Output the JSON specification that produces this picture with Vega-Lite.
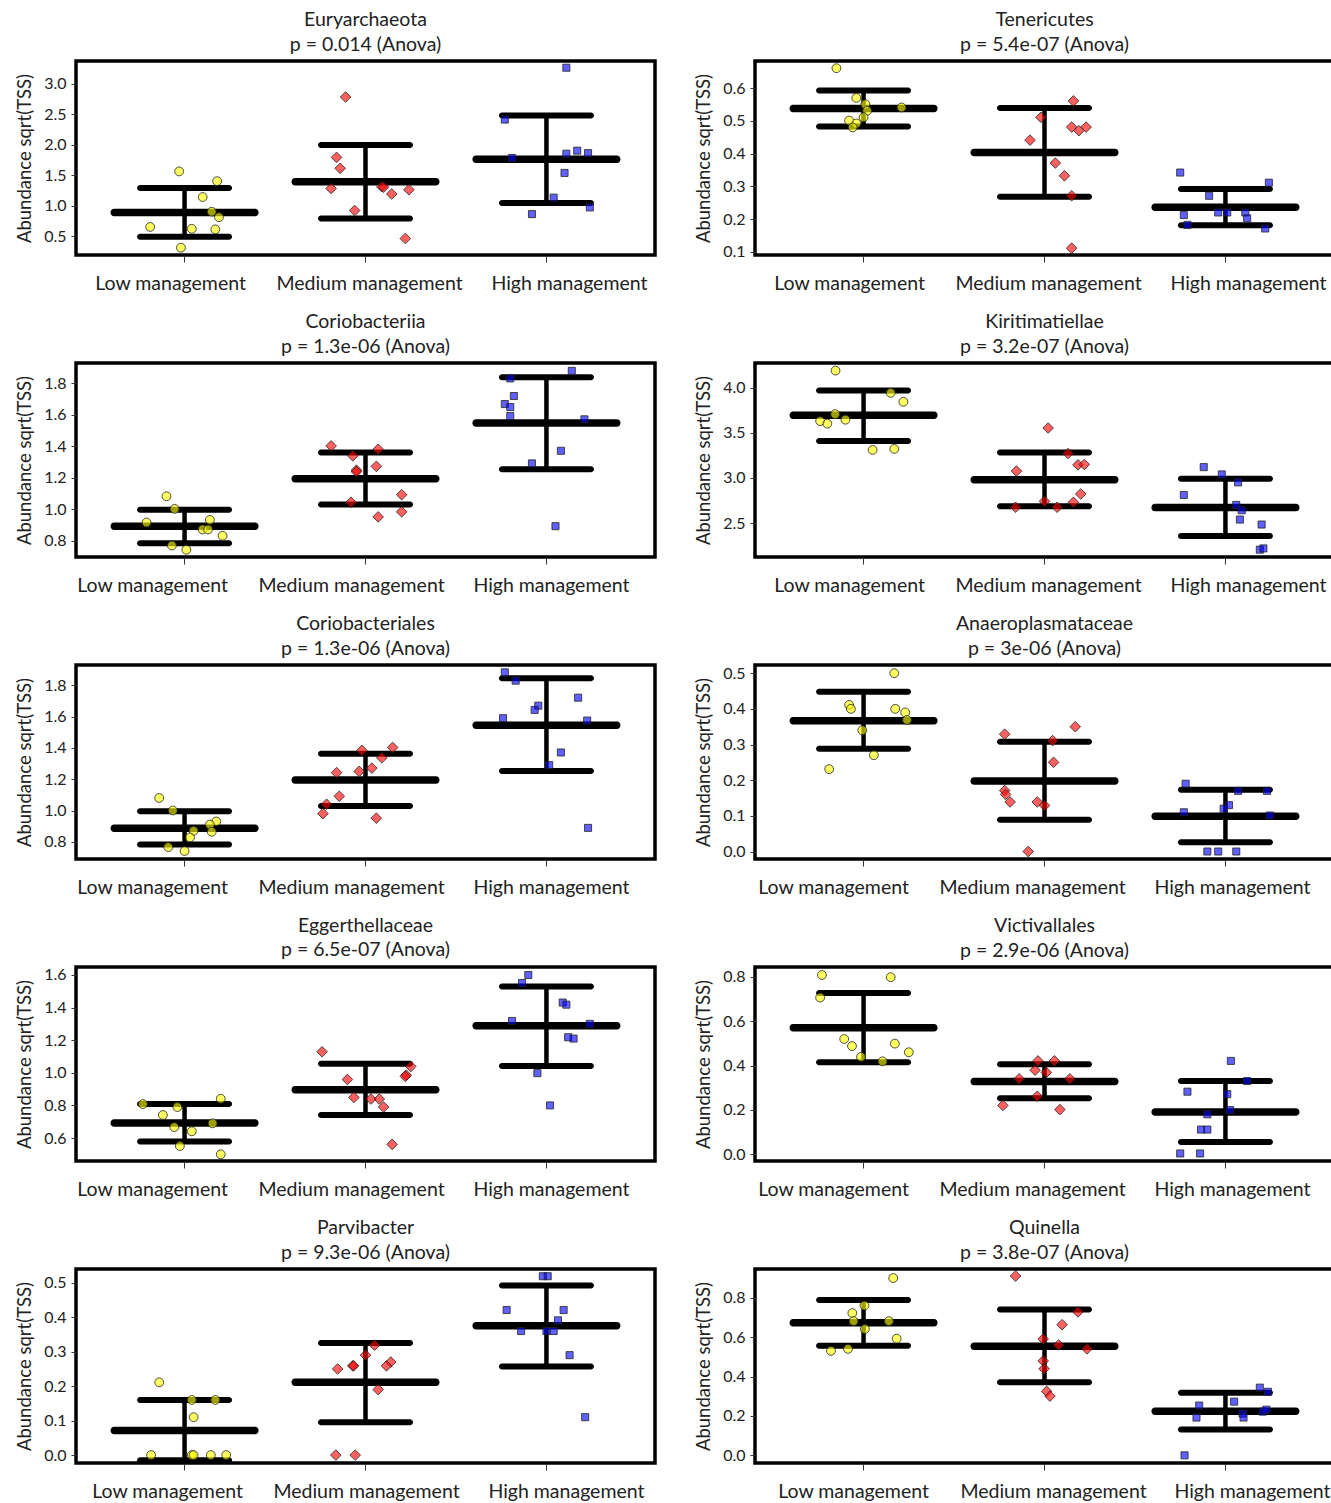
{
"$schema": "https://vega.github.io/schema/vega-lite/v6.json",
"padding": {"left": 13, "top": 8, "right": 0, "bottom": 0},
"background": "white",
"datasets": {"d": [
{"t":"Euryarchaeota","g":"L","k":"pt","v":1.56,"j":-0.03},{"t":"Euryarchaeota","g":"L","k":"pt","v":1.40,"j":0.18},{"t":"Euryarchaeota","g":"L","k":"pt","v":1.14,"j":0.10},{"t":"Euryarchaeota","g":"L","k":"pt","v":0.90,"j":0.15},{"t":"Euryarchaeota","g":"L","k":"pt","v":0.81,"j":0.19},{"t":"Euryarchaeota","g":"L","k":"pt","v":0.65,"j":-0.19},{"t":"Euryarchaeota","g":"L","k":"pt","v":0.62,"j":0.04},{"t":"Euryarchaeota","g":"L","k":"pt","v":0.61,"j":0.17},{"t":"Euryarchaeota","g":"L","k":"pt","v":0.31,"j":-0.02},
{"t":"Euryarchaeota","g":"L","k":"m","v":0.885},{"t":"Euryarchaeota","g":"L","k":"lo","v":0.49},{"t":"Euryarchaeota","g":"L","k":"hi","v":1.29},
{"t":"Euryarchaeota","g":"M","k":"pt","v":2.78,"j":-0.11},{"t":"Euryarchaeota","g":"M","k":"pt","v":1.79,"j":-0.16},{"t":"Euryarchaeota","g":"M","k":"pt","v":1.61,"j":-0.14},{"t":"Euryarchaeota","g":"M","k":"pt","v":1.28,"j":-0.19},{"t":"Euryarchaeota","g":"M","k":"pt","v":1.31,"j":0.09},{"t":"Euryarchaeota","g":"M","k":"pt","v":1.30,"j":0.10},{"t":"Euryarchaeota","g":"M","k":"pt","v":1.19,"j":0.145},{"t":"Euryarchaeota","g":"M","k":"pt","v":1.26,"j":0.24},{"t":"Euryarchaeota","g":"M","k":"pt","v":0.92,"j":-0.06},{"t":"Euryarchaeota","g":"M","k":"pt","v":0.46,"j":0.22},
{"t":"Euryarchaeota","g":"M","k":"m","v":1.39},{"t":"Euryarchaeota","g":"M","k":"lo","v":0.79},{"t":"Euryarchaeota","g":"M","k":"hi","v":1.995},
{"t":"Euryarchaeota","g":"H","k":"pt","v":3.26,"j":0.11},{"t":"Euryarchaeota","g":"H","k":"pt","v":2.41,"j":-0.23},{"t":"Euryarchaeota","g":"H","k":"pt","v":1.78,"j":-0.19},{"t":"Euryarchaeota","g":"H","k":"pt","v":1.85,"j":0.11},{"t":"Euryarchaeota","g":"H","k":"pt","v":1.90,"j":0.17},{"t":"Euryarchaeota","g":"H","k":"pt","v":1.86,"j":0.23},{"t":"Euryarchaeota","g":"H","k":"pt","v":1.535,"j":0.10},{"t":"Euryarchaeota","g":"H","k":"pt","v":1.13,"j":0.04},{"t":"Euryarchaeota","g":"H","k":"pt","v":0.86,"j":-0.08},{"t":"Euryarchaeota","g":"H","k":"pt","v":0.97,"j":0.24},
{"t":"Euryarchaeota","g":"H","k":"m","v":1.76},{"t":"Euryarchaeota","g":"H","k":"lo","v":1.044},{"t":"Euryarchaeota","g":"H","k":"hi","v":2.475},

{"t":"Tenericutes","g":"L","k":"pt","v":0.661,"j":-0.15},{"t":"Tenericutes","g":"L","k":"pt","v":0.570,"j":-0.04},{"t":"Tenericutes","g":"L","k":"pt","v":0.551,"j":0.01},{"t":"Tenericutes","g":"L","k":"pt","v":0.531,"j":0.02},{"t":"Tenericutes","g":"L","k":"pt","v":0.511,"j":0.0},{"t":"Tenericutes","g":"L","k":"pt","v":0.541,"j":0.21},{"t":"Tenericutes","g":"L","k":"pt","v":0.501,"j":-0.08},{"t":"Tenericutes","g":"L","k":"pt","v":0.492,"j":-0.04},{"t":"Tenericutes","g":"L","k":"pt","v":0.480,"j":-0.06},
{"t":"Tenericutes","g":"L","k":"m","v":0.538},{"t":"Tenericutes","g":"L","k":"lo","v":0.483},{"t":"Tenericutes","g":"L","k":"hi","v":0.593},
{"t":"Tenericutes","g":"M","k":"pt","v":0.561,"j":0.16},{"t":"Tenericutes","g":"M","k":"pt","v":0.511,"j":-0.02},{"t":"Tenericutes","g":"M","k":"pt","v":0.441,"j":-0.08},{"t":"Tenericutes","g":"M","k":"pt","v":0.481,"j":0.15},{"t":"Tenericutes","g":"M","k":"pt","v":0.470,"j":0.19},{"t":"Tenericutes","g":"M","k":"pt","v":0.481,"j":0.23},{"t":"Tenericutes","g":"M","k":"pt","v":0.371,"j":0.06},{"t":"Tenericutes","g":"M","k":"pt","v":0.332,"j":0.11},{"t":"Tenericutes","g":"M","k":"pt","v":0.271,"j":0.15},{"t":"Tenericutes","g":"M","k":"pt","v":0.111,"j":0.15},
{"t":"Tenericutes","g":"M","k":"m","v":0.403},{"t":"Tenericutes","g":"M","k":"lo","v":0.268},{"t":"Tenericutes","g":"M","k":"hi","v":0.539},
{"t":"Tenericutes","g":"H","k":"pt","v":0.342,"j":-0.25},{"t":"Tenericutes","g":"H","k":"pt","v":0.311,"j":0.24},{"t":"Tenericutes","g":"H","k":"pt","v":0.271,"j":-0.09},{"t":"Tenericutes","g":"H","k":"pt","v":0.212,"j":-0.23},{"t":"Tenericutes","g":"H","k":"pt","v":0.220,"j":-0.04},{"t":"Tenericutes","g":"H","k":"pt","v":0.220,"j":0.01},{"t":"Tenericutes","g":"H","k":"pt","v":0.220,"j":0.11},{"t":"Tenericutes","g":"H","k":"pt","v":0.202,"j":0.12},{"t":"Tenericutes","g":"H","k":"pt","v":0.182,"j":-0.21},{"t":"Tenericutes","g":"H","k":"pt","v":0.171,"j":0.22},
{"t":"Tenericutes","g":"H","k":"m","v":0.236},{"t":"Tenericutes","g":"H","k":"lo","v":0.181},{"t":"Tenericutes","g":"H","k":"hi","v":0.292},

{"t":"Coriobacteriia","g":"L","k":"pt","v":1.083,"j":-0.10},{"t":"Coriobacteriia","g":"L","k":"pt","v":1.003,"j":-0.055},{"t":"Coriobacteriia","g":"L","k":"pt","v":0.916,"j":-0.21},{"t":"Coriobacteriia","g":"L","k":"pt","v":0.933,"j":0.14},{"t":"Coriobacteriia","g":"L","k":"pt","v":0.872,"j":0.10},{"t":"Coriobacteriia","g":"L","k":"pt","v":0.872,"j":0.13},{"t":"Coriobacteriia","g":"L","k":"pt","v":0.832,"j":0.21},{"t":"Coriobacteriia","g":"L","k":"pt","v":0.770,"j":-0.07},{"t":"Coriobacteriia","g":"L","k":"pt","v":0.743,"j":0.01},
{"t":"Coriobacteriia","g":"L","k":"m","v":0.893},{"t":"Coriobacteriia","g":"L","k":"lo","v":0.785},{"t":"Coriobacteriia","g":"L","k":"hi","v":0.998},
{"t":"Coriobacteriia","g":"M","k":"pt","v":1.403,"j":-0.19},{"t":"Coriobacteriia","g":"M","k":"pt","v":1.340,"j":-0.07},{"t":"Coriobacteriia","g":"M","k":"pt","v":1.382,"j":0.07},{"t":"Coriobacteriia","g":"M","k":"pt","v":1.273,"j":0.06},{"t":"Coriobacteriia","g":"M","k":"pt","v":1.249,"j":-0.05},{"t":"Coriobacteriia","g":"M","k":"pt","v":1.239,"j":-0.05},{"t":"Coriobacteriia","g":"M","k":"pt","v":1.093,"j":0.20},{"t":"Coriobacteriia","g":"M","k":"pt","v":1.045,"j":-0.08},{"t":"Coriobacteriia","g":"M","k":"pt","v":0.984,"j":0.20},{"t":"Coriobacteriia","g":"M","k":"pt","v":0.952,"j":0.07},
{"t":"Coriobacteriia","g":"M","k":"m","v":1.195},{"t":"Coriobacteriia","g":"M","k":"lo","v":1.030},{"t":"Coriobacteriia","g":"M","k":"hi","v":1.361},
{"t":"Coriobacteriia","g":"H","k":"pt","v":1.880,"j":0.14},{"t":"Coriobacteriia","g":"H","k":"pt","v":1.832,"j":-0.20},{"t":"Coriobacteriia","g":"H","k":"pt","v":1.720,"j":-0.18},{"t":"Coriobacteriia","g":"H","k":"pt","v":1.669,"j":-0.23},{"t":"Coriobacteriia","g":"H","k":"pt","v":1.650,"j":-0.20},{"t":"Coriobacteriia","g":"H","k":"pt","v":1.593,"j":-0.20},{"t":"Coriobacteriia","g":"H","k":"pt","v":1.572,"j":0.21},{"t":"Coriobacteriia","g":"H","k":"pt","v":1.372,"j":0.08},{"t":"Coriobacteriia","g":"H","k":"pt","v":1.292,"j":-0.08},{"t":"Coriobacteriia","g":"H","k":"pt","v":0.893,"j":0.05},
{"t":"Coriobacteriia","g":"H","k":"m","v":1.549},{"t":"Coriobacteriia","g":"H","k":"lo","v":1.254},{"t":"Coriobacteriia","g":"H","k":"hi","v":1.840},

{"t":"Kiritimatiellae","g":"L","k":"pt","v":4.187,"j":-0.155},{"t":"Kiritimatiellae","g":"L","k":"pt","v":3.941,"j":0.15},{"t":"Kiritimatiellae","g":"L","k":"pt","v":3.842,"j":0.22},{"t":"Kiritimatiellae","g":"L","k":"pt","v":3.706,"j":-0.157},{"t":"Kiritimatiellae","g":"L","k":"pt","v":3.629,"j":-0.24},{"t":"Kiritimatiellae","g":"L","k":"pt","v":3.600,"j":-0.20},{"t":"Kiritimatiellae","g":"L","k":"pt","v":3.644,"j":-0.10},{"t":"Kiritimatiellae","g":"L","k":"pt","v":3.310,"j":0.05},{"t":"Kiritimatiellae","g":"L","k":"pt","v":3.321,"j":0.17},
{"t":"Kiritimatiellae","g":"L","k":"m","v":3.692},{"t":"Kiritimatiellae","g":"L","k":"lo","v":3.409},{"t":"Kiritimatiellae","g":"L","k":"hi","v":3.967},
{"t":"Kiritimatiellae","g":"M","k":"pt","v":3.552,"j":0.02},{"t":"Kiritimatiellae","g":"M","k":"pt","v":3.270,"j":0.13},{"t":"Kiritimatiellae","g":"M","k":"pt","v":3.145,"j":0.185},{"t":"Kiritimatiellae","g":"M","k":"pt","v":3.149,"j":0.22},{"t":"Kiritimatiellae","g":"M","k":"pt","v":3.076,"j":-0.155},{"t":"Kiritimatiellae","g":"M","k":"pt","v":2.823,"j":0.20},{"t":"Kiritimatiellae","g":"M","k":"pt","v":2.742,"j":0.0},{"t":"Kiritimatiellae","g":"M","k":"pt","v":2.731,"j":0.16},{"t":"Kiritimatiellae","g":"M","k":"pt","v":2.676,"j":-0.16},{"t":"Kiritimatiellae","g":"M","k":"pt","v":2.676,"j":0.07},
{"t":"Kiritimatiellae","g":"M","k":"m","v":2.980},{"t":"Kiritimatiellae","g":"M","k":"lo","v":2.687},{"t":"Kiritimatiellae","g":"M","k":"hi","v":3.281},
{"t":"Kiritimatiellae","g":"H","k":"pt","v":3.120,"j":-0.12},{"t":"Kiritimatiellae","g":"H","k":"pt","v":3.039,"j":-0.02},{"t":"Kiritimatiellae","g":"H","k":"pt","v":2.812,"j":-0.23},{"t":"Kiritimatiellae","g":"H","k":"pt","v":2.951,"j":0.07},{"t":"Kiritimatiellae","g":"H","k":"pt","v":2.702,"j":0.06},{"t":"Kiritimatiellae","g":"H","k":"pt","v":2.643,"j":0.09},{"t":"Kiritimatiellae","g":"H","k":"pt","v":2.540,"j":0.08},{"t":"Kiritimatiellae","g":"H","k":"pt","v":2.485,"j":0.20},{"t":"Kiritimatiellae","g":"H","k":"pt","v":2.207,"j":0.19},{"t":"Kiritimatiellae","g":"H","k":"pt","v":2.221,"j":0.21},
{"t":"Kiritimatiellae","g":"H","k":"m","v":2.672},{"t":"Kiritimatiellae","g":"H","k":"lo","v":2.357},{"t":"Kiritimatiellae","g":"H","k":"hi","v":2.991},

{"t":"Coriobacteriales","g":"L","k":"pt","v":1.080,"j":-0.14},{"t":"Coriobacteriales","g":"L","k":"pt","v":1.0,"j":-0.065},{"t":"Coriobacteriales","g":"L","k":"pt","v":0.93,"j":0.175},{"t":"Coriobacteriales","g":"L","k":"pt","v":0.91,"j":0.14},{"t":"Coriobacteriales","g":"L","k":"pt","v":0.87,"j":0.05},{"t":"Coriobacteriales","g":"L","k":"pt","v":0.864,"j":0.15},{"t":"Coriobacteriales","g":"L","k":"pt","v":0.828,"j":0.03},{"t":"Coriobacteriales","g":"L","k":"pt","v":0.766,"j":-0.09},{"t":"Coriobacteriales","g":"L","k":"pt","v":0.741,"j":0.0},
{"t":"Coriobacteriales","g":"L","k":"m","v":0.887},{"t":"Coriobacteriales","g":"L","k":"lo","v":0.783},{"t":"Coriobacteriales","g":"L","k":"hi","v":0.995},
{"t":"Coriobacteriales","g":"M","k":"pt","v":1.403,"j":0.15},{"t":"Coriobacteriales","g":"M","k":"pt","v":1.384,"j":-0.02},{"t":"Coriobacteriales","g":"M","k":"pt","v":1.337,"j":0.09},{"t":"Coriobacteriales","g":"M","k":"pt","v":1.271,"j":0.035},{"t":"Coriobacteriales","g":"M","k":"pt","v":1.250,"j":-0.035},{"t":"Coriobacteriales","g":"M","k":"pt","v":1.242,"j":-0.16},{"t":"Coriobacteriales","g":"M","k":"pt","v":1.091,"j":-0.145},{"t":"Coriobacteriales","g":"M","k":"pt","v":1.040,"j":-0.215},{"t":"Coriobacteriales","g":"M","k":"pt","v":0.980,"j":-0.235},{"t":"Coriobacteriales","g":"M","k":"pt","v":0.951,"j":0.06},
{"t":"Coriobacteriales","g":"M","k":"m","v":1.195},{"t":"Coriobacteriales","g":"M","k":"lo","v":1.029},{"t":"Coriobacteriales","g":"M","k":"hi","v":1.363},
{"t":"Coriobacteriales","g":"H","k":"pt","v":1.883,"j":-0.23},{"t":"Coriobacteriales","g":"H","k":"pt","v":1.830,"j":-0.17},{"t":"Coriobacteriales","g":"H","k":"pt","v":1.721,"j":0.175},{"t":"Coriobacteriales","g":"H","k":"pt","v":1.670,"j":-0.045},{"t":"Coriobacteriales","g":"H","k":"pt","v":1.643,"j":-0.065},{"t":"Coriobacteriales","g":"H","k":"pt","v":1.590,"j":-0.24},{"t":"Coriobacteriales","g":"H","k":"pt","v":1.575,"j":0.225},{"t":"Coriobacteriales","g":"H","k":"pt","v":1.371,"j":0.08},{"t":"Coriobacteriales","g":"H","k":"pt","v":1.290,"j":0.015},{"t":"Coriobacteriales","g":"H","k":"pt","v":0.889,"j":0.23},
{"t":"Coriobacteriales","g":"H","k":"m","v":1.545},{"t":"Coriobacteriales","g":"H","k":"lo","v":1.252},{"t":"Coriobacteriales","g":"H","k":"hi","v":1.845},

{"t":"Anaeroplasmataceae","g":"L","k":"pt","v":0.50,"j":0.17},{"t":"Anaeroplasmataceae","g":"L","k":"pt","v":0.411,"j":-0.08},{"t":"Anaeroplasmataceae","g":"L","k":"pt","v":0.40,"j":-0.07},{"t":"Anaeroplasmataceae","g":"L","k":"pt","v":0.40,"j":0.175},{"t":"Anaeroplasmataceae","g":"L","k":"pt","v":0.39,"j":0.23},{"t":"Anaeroplasmataceae","g":"L","k":"pt","v":0.369,"j":0.24},{"t":"Anaeroplasmataceae","g":"L","k":"pt","v":0.34,"j":-0.007},{"t":"Anaeroplasmataceae","g":"L","k":"pt","v":0.27,"j":0.057},{"t":"Anaeroplasmataceae","g":"L","k":"pt","v":0.231,"j":-0.19},
{"t":"Anaeroplasmataceae","g":"L","k":"m","v":0.367},{"t":"Anaeroplasmataceae","g":"L","k":"lo","v":0.288},{"t":"Anaeroplasmataceae","g":"L","k":"hi","v":0.448},
{"t":"Anaeroplasmataceae","g":"M","k":"pt","v":0.35,"j":0.17},{"t":"Anaeroplasmataceae","g":"M","k":"pt","v":0.329,"j":-0.22},{"t":"Anaeroplasmataceae","g":"M","k":"pt","v":0.311,"j":0.045},{"t":"Anaeroplasmataceae","g":"M","k":"pt","v":0.25,"j":0.05},{"t":"Anaeroplasmataceae","g":"M","k":"pt","v":0.171,"j":-0.22},{"t":"Anaeroplasmataceae","g":"M","k":"pt","v":0.160,"j":-0.215},{"t":"Anaeroplasmataceae","g":"M","k":"pt","v":0.139,"j":-0.19},{"t":"Anaeroplasmataceae","g":"M","k":"pt","v":0.139,"j":-0.04},{"t":"Anaeroplasmataceae","g":"M","k":"pt","v":0.129,"j":0.0},{"t":"Anaeroplasmataceae","g":"M","k":"pt","v":0.0,"j":-0.09},
{"t":"Anaeroplasmataceae","g":"M","k":"m","v":0.198},{"t":"Anaeroplasmataceae","g":"M","k":"lo","v":0.089},{"t":"Anaeroplasmataceae","g":"M","k":"hi","v":0.308},
{"t":"Anaeroplasmataceae","g":"H","k":"pt","v":0.190,"j":-0.22},{"t":"Anaeroplasmataceae","g":"H","k":"pt","v":0.170,"j":0.07},{"t":"Anaeroplasmataceae","g":"H","k":"pt","v":0.170,"j":0.23},{"t":"Anaeroplasmataceae","g":"H","k":"pt","v":0.130,"j":0.02},{"t":"Anaeroplasmataceae","g":"H","k":"pt","v":0.120,"j":-0.01},{"t":"Anaeroplasmataceae","g":"H","k":"pt","v":0.110,"j":-0.23},{"t":"Anaeroplasmataceae","g":"H","k":"pt","v":0.101,"j":0.245},{"t":"Anaeroplasmataceae","g":"H","k":"pt","v":0.0,"j":-0.10},{"t":"Anaeroplasmataceae","g":"H","k":"pt","v":0.0,"j":-0.04},{"t":"Anaeroplasmataceae","g":"H","k":"pt","v":0.0,"j":0.06},
{"t":"Anaeroplasmataceae","g":"H","k":"m","v":0.099},{"t":"Anaeroplasmataceae","g":"H","k":"lo","v":0.026},{"t":"Anaeroplasmataceae","g":"H","k":"hi","v":0.173},

{"t":"Eggerthellaceae","g":"L","k":"pt","v":0.841,"j":0.20},{"t":"Eggerthellaceae","g":"L","k":"pt","v":0.808,"j":-0.23},{"t":"Eggerthellaceae","g":"L","k":"pt","v":0.790,"j":-0.04},{"t":"Eggerthellaceae","g":"L","k":"pt","v":0.741,"j":-0.12},{"t":"Eggerthellaceae","g":"L","k":"pt","v":0.690,"j":0.155},{"t":"Eggerthellaceae","g":"L","k":"pt","v":0.667,"j":-0.057},{"t":"Eggerthellaceae","g":"L","k":"pt","v":0.641,"j":0.04},{"t":"Eggerthellaceae","g":"L","k":"pt","v":0.551,"j":-0.026},{"t":"Eggerthellaceae","g":"L","k":"pt","v":0.50,"j":0.20},
{"t":"Eggerthellaceae","g":"L","k":"m","v":0.692},{"t":"Eggerthellaceae","g":"L","k":"lo","v":0.578},{"t":"Eggerthellaceae","g":"L","k":"hi","v":0.808},
{"t":"Eggerthellaceae","g":"M","k":"pt","v":1.129,"j":-0.24},{"t":"Eggerthellaceae","g":"M","k":"pt","v":1.039,"j":0.25},{"t":"Eggerthellaceae","g":"M","k":"pt","v":0.986,"j":0.225},{"t":"Eggerthellaceae","g":"M","k":"pt","v":0.978,"j":0.22},{"t":"Eggerthellaceae","g":"M","k":"pt","v":0.959,"j":-0.10},{"t":"Eggerthellaceae","g":"M","k":"pt","v":0.849,"j":-0.064},{"t":"Eggerthellaceae","g":"M","k":"pt","v":0.839,"j":0.03},{"t":"Eggerthellaceae","g":"M","k":"pt","v":0.839,"j":0.076},{"t":"Eggerthellaceae","g":"M","k":"pt","v":0.790,"j":0.10},{"t":"Eggerthellaceae","g":"M","k":"pt","v":0.561,"j":0.147},
{"t":"Eggerthellaceae","g":"M","k":"m","v":0.896},{"t":"Eggerthellaceae","g":"M","k":"lo","v":0.741},{"t":"Eggerthellaceae","g":"M","k":"hi","v":1.055},
{"t":"Eggerthellaceae","g":"H","k":"pt","v":1.60,"j":-0.10},{"t":"Eggerthellaceae","g":"H","k":"pt","v":1.551,"j":-0.135},{"t":"Eggerthellaceae","g":"H","k":"pt","v":1.431,"j":0.09},{"t":"Eggerthellaceae","g":"H","k":"pt","v":1.418,"j":0.11},{"t":"Eggerthellaceae","g":"H","k":"pt","v":1.318,"j":-0.19},{"t":"Eggerthellaceae","g":"H","k":"pt","v":1.30,"j":0.24},{"t":"Eggerthellaceae","g":"H","k":"pt","v":1.218,"j":0.12},{"t":"Eggerthellaceae","g":"H","k":"pt","v":1.210,"j":0.15},{"t":"Eggerthellaceae","g":"H","k":"pt","v":0.998,"j":-0.05},{"t":"Eggerthellaceae","g":"H","k":"pt","v":0.80,"j":0.02},
{"t":"Eggerthellaceae","g":"H","k":"m","v":1.288},{"t":"Eggerthellaceae","g":"H","k":"lo","v":1.041},{"t":"Eggerthellaceae","g":"H","k":"hi","v":1.529},

{"t":"Victivallales","g":"L","k":"pt","v":0.809,"j":-0.23},{"t":"Victivallales","g":"L","k":"pt","v":0.799,"j":0.15},{"t":"Victivallales","g":"L","k":"pt","v":0.707,"j":-0.24},{"t":"Victivallales","g":"L","k":"pt","v":0.520,"j":-0.107},{"t":"Victivallales","g":"L","k":"pt","v":0.488,"j":-0.064},{"t":"Victivallales","g":"L","k":"pt","v":0.499,"j":0.173},{"t":"Victivallales","g":"L","k":"pt","v":0.460,"j":0.25},{"t":"Victivallales","g":"L","k":"pt","v":0.439,"j":-0.014},{"t":"Victivallales","g":"L","k":"pt","v":0.419,"j":0.105},
{"t":"Victivallales","g":"L","k":"m","v":0.571},{"t":"Victivallales","g":"L","k":"lo","v":0.415},{"t":"Victivallales","g":"L","k":"hi","v":0.728},
{"t":"Victivallales","g":"M","k":"pt","v":0.421,"j":-0.036},{"t":"Victivallales","g":"M","k":"pt","v":0.421,"j":0.055},{"t":"Victivallales","g":"M","k":"pt","v":0.379,"j":-0.052},{"t":"Victivallales","g":"M","k":"pt","v":0.369,"j":0.01},{"t":"Victivallales","g":"M","k":"pt","v":0.340,"j":-0.14},{"t":"Victivallales","g":"M","k":"pt","v":0.340,"j":0.14},{"t":"Victivallales","g":"M","k":"pt","v":0.261,"j":-0.04},{"t":"Victivallales","g":"M","k":"pt","v":0.220,"j":-0.23},{"t":"Victivallales","g":"M","k":"pt","v":0.201,"j":0.085},
{"t":"Victivallales","g":"M","k":"m","v":0.328},{"t":"Victivallales","g":"M","k":"lo","v":0.252},{"t":"Victivallales","g":"M","k":"hi","v":0.406},
{"t":"Victivallales","g":"H","k":"pt","v":0.421,"j":0.03},{"t":"Victivallales","g":"H","k":"pt","v":0.330,"j":0.12},{"t":"Victivallales","g":"H","k":"pt","v":0.282,"j":-0.21},{"t":"Victivallales","g":"H","k":"pt","v":0.271,"j":0.01},{"t":"Victivallales","g":"H","k":"pt","v":0.199,"j":0.026},{"t":"Victivallales","g":"H","k":"pt","v":0.180,"j":-0.10},{"t":"Victivallales","g":"H","k":"pt","v":0.111,"j":-0.135},{"t":"Victivallales","g":"H","k":"pt","v":0.111,"j":-0.10},{"t":"Victivallales","g":"H","k":"pt","v":0.003,"j":-0.25},{"t":"Victivallales","g":"H","k":"pt","v":0.003,"j":-0.14},
{"t":"Victivallales","g":"H","k":"m","v":0.190},{"t":"Victivallales","g":"H","k":"lo","v":0.055},{"t":"Victivallales","g":"H","k":"hi","v":0.330},

{"t":"Parvibacter","g":"L","k":"pt","v":0.211,"j":-0.14},{"t":"Parvibacter","g":"L","k":"pt","v":0.160,"j":0.04},{"t":"Parvibacter","g":"L","k":"pt","v":0.160,"j":0.17},{"t":"Parvibacter","g":"L","k":"pt","v":0.110,"j":0.05},{"t":"Parvibacter","g":"L","k":"pt","v":0.0,"j":-0.185},{"t":"Parvibacter","g":"L","k":"pt","v":0.0,"j":0.04},{"t":"Parvibacter","g":"L","k":"pt","v":0.0,"j":0.05},{"t":"Parvibacter","g":"L","k":"pt","v":0.0,"j":0.145},{"t":"Parvibacter","g":"L","k":"pt","v":0.0,"j":0.23},
{"t":"Parvibacter","g":"L","k":"m","v":0.071},{"t":"Parvibacter","g":"L","k":"lo","v":-0.015},{"t":"Parvibacter","g":"L","k":"hi","v":0.160},
{"t":"Parvibacter","g":"M","k":"pt","v":0.319,"j":0.05},{"t":"Parvibacter","g":"M","k":"pt","v":0.290,"j":0.0},{"t":"Parvibacter","g":"M","k":"pt","v":0.259,"j":-0.07},{"t":"Parvibacter","g":"M","k":"pt","v":0.259,"j":-0.066},{"t":"Parvibacter","g":"M","k":"pt","v":0.270,"j":0.14},{"t":"Parvibacter","g":"M","k":"pt","v":0.259,"j":0.116},{"t":"Parvibacter","g":"M","k":"pt","v":0.250,"j":-0.154},{"t":"Parvibacter","g":"M","k":"pt","v":0.190,"j":0.07},{"t":"Parvibacter","g":"M","k":"pt","v":0.0,"j":-0.164},{"t":"Parvibacter","g":"M","k":"pt","v":0.0,"j":-0.057},
{"t":"Parvibacter","g":"M","k":"m","v":0.211},{"t":"Parvibacter","g":"M","k":"lo","v":0.095},{"t":"Parvibacter","g":"M","k":"hi","v":0.325},
{"t":"Parvibacter","g":"H","k":"pt","v":0.519,"j":-0.02},{"t":"Parvibacter","g":"H","k":"pt","v":0.519,"j":0.007},{"t":"Parvibacter","g":"H","k":"pt","v":0.421,"j":-0.22},{"t":"Parvibacter","g":"H","k":"pt","v":0.421,"j":0.095},{"t":"Parvibacter","g":"H","k":"pt","v":0.391,"j":0.064},{"t":"Parvibacter","g":"H","k":"pt","v":0.360,"j":-0.14},{"t":"Parvibacter","g":"H","k":"pt","v":0.360,"j":0.0},{"t":"Parvibacter","g":"H","k":"pt","v":0.360,"j":0.04},{"t":"Parvibacter","g":"H","k":"pt","v":0.290,"j":0.128},{"t":"Parvibacter","g":"H","k":"pt","v":0.110,"j":0.214},
{"t":"Parvibacter","g":"H","k":"m","v":0.375},{"t":"Parvibacter","g":"H","k":"lo","v":0.257},{"t":"Parvibacter","g":"H","k":"hi","v":0.492},

{"t":"Quinella","g":"L","k":"pt","v":0.901,"j":0.164},{"t":"Quinella","g":"L","k":"pt","v":0.761,"j":0.005},{"t":"Quinella","g":"L","k":"pt","v":0.723,"j":-0.062},{"t":"Quinella","g":"L","k":"pt","v":0.682,"j":-0.055},{"t":"Quinella","g":"L","k":"pt","v":0.682,"j":0.14},{"t":"Quinella","g":"L","k":"pt","v":0.642,"j":0.007},{"t":"Quinella","g":"L","k":"pt","v":0.593,"j":0.183},{"t":"Quinella","g":"L","k":"pt","v":0.531,"j":-0.18},{"t":"Quinella","g":"L","k":"pt","v":0.541,"j":-0.086},
{"t":"Quinella","g":"L","k":"m","v":0.674},{"t":"Quinella","g":"L","k":"lo","v":0.557},{"t":"Quinella","g":"L","k":"hi","v":0.790},
{"t":"Quinella","g":"M","k":"pt","v":0.911,"j":-0.16},{"t":"Quinella","g":"M","k":"pt","v":0.729,"j":0.185},{"t":"Quinella","g":"M","k":"pt","v":0.664,"j":0.097},{"t":"Quinella","g":"M","k":"pt","v":0.591,"j":-0.007},{"t":"Quinella","g":"M","k":"pt","v":0.561,"j":0.078},{"t":"Quinella","g":"M","k":"pt","v":0.541,"j":0.235},{"t":"Quinella","g":"M","k":"pt","v":0.480,"j":-0.007},{"t":"Quinella","g":"M","k":"pt","v":0.440,"j":-0.002},{"t":"Quinella","g":"M","k":"pt","v":0.325,"j":0.012},{"t":"Quinella","g":"M","k":"pt","v":0.301,"j":0.03},
{"t":"Quinella","g":"M","k":"m","v":0.554},{"t":"Quinella","g":"M","k":"lo","v":0.371},{"t":"Quinella","g":"M","k":"hi","v":0.741},
{"t":"Quinella","g":"H","k":"pt","v":0.344,"j":0.19},{"t":"Quinella","g":"H","k":"pt","v":0.323,"j":0.235},{"t":"Quinella","g":"H","k":"pt","v":0.273,"j":0.048},{"t":"Quinella","g":"H","k":"pt","v":0.253,"j":-0.145},{"t":"Quinella","g":"H","k":"pt","v":0.192,"j":-0.16},{"t":"Quinella","g":"H","k":"pt","v":0.212,"j":0.095},{"t":"Quinella","g":"H","k":"pt","v":0.192,"j":0.10},{"t":"Quinella","g":"H","k":"pt","v":0.222,"j":0.207},{"t":"Quinella","g":"H","k":"pt","v":0.232,"j":0.226},{"t":"Quinella","g":"H","k":"pt","v":0.0,"j":-0.226},
{"t":"Quinella","g":"H","k":"m","v":0.224},{"t":"Quinella","g":"H","k":"lo","v":0.131},{"t":"Quinella","g":"H","k":"hi","v":0.318}
]},
"data": {"name": "d"},
"resolve": {"scale": {"xOffset": "independent"}},
"spacing": 15,
"vconcat": [
{"hconcat": [
 {"width": 579, "height": 194, "title": {"text": "Euryarchaeota", "subtitle": "p = 0.014 (Anova)"}, "transform": [{"filter": "datum.t=='Euryarchaeota'"}],
  "encoding": {"x": {"field": "g", "type": "nominal", "sort": ["L","M","H"], "title": null, "scale": {"type": "band", "paddingInner": 0, "paddingOuter": 0.1}, "axis": {"labelExpr": "datum.value=='L'?'Low management':datum.value=='M'?'Medium management':'High management'", "labelOffset": {"condition": [{"test": "datum.value=='L'", "value": -14}, {"test": "datum.value=='H'", "value": 23}], "value": 4}}},
   "y": {"field": "v", "type": "quantitative", "title": "Abundance sqrt(TSS)", "scale": {"domain": [0.19, 3.37]}, "axis": {"format": ".1f"}}},
  "layer": [
   {"transform": [{"filter": "datum.k=='lo'||datum.k=='hi'"}], "mark": {"type": "line", "color": "black", "strokeWidth": 4.5}, "encoding": {"detail": {"field": "g"}}},
   {"transform": [{"filter": "datum.k=='lo'||datum.k=='hi'"}], "mark": {"type": "tick", "color": "black", "opacity": 1, "size": 95, "thickness": 6, "cornerRadius": 3}},
   {"transform": [{"filter": "datum.k=='m'"}], "mark": {"type": "tick", "color": "black", "opacity": 1, "size": 148, "thickness": 7.5, "cornerRadius": 3.5}},
   {"transform": [{"filter": "datum.k=='pt'"}], "mark": {"type": "point", "filled": true, "size": 78, "opacity": 1, "fillOpacity": 0.62, "stroke": "#222", "strokeWidth": 0.8},
    "encoding": {"xOffset": {"field": "j", "type": "quantitative", "scale": {"domain": [-0.5, 0.5]}}, "shape": {"field": "g", "type": "nominal", "scale": {"domain": ["L","M","H"], "range": ["circle","M0,-1.2L1.2,0L0,1.2L-1.2,0Z","M-0.8,-0.8H0.8V0.8H-0.8Z"]}, "legend": null}, "fill": {"field": "g", "type": "nominal", "scale": {"domain": ["L","M","H"], "range": ["#ffff00","#ff0000","#0000ff"]}, "legend": null}}}
  ]},
 {"width": 579, "height": 194, "title": {"text": "Tenericutes", "subtitle": "p = 5.4e-07 (Anova)"}, "transform": [{"filter": "datum.t=='Tenericutes'"}],
  "encoding": {"x": {"field": "g", "type": "nominal", "sort": ["L","M","H"], "title": null, "scale": {"type": "band", "paddingInner": 0, "paddingOuter": 0.1}, "axis": {"labelExpr": "datum.value=='L'?'Low management':datum.value=='M'?'Medium management':'High management'", "labelOffset": {"condition": [{"test": "datum.value=='L'", "value": -14}, {"test": "datum.value=='H'", "value": 23}], "value": 4}}},
   "y": {"field": "v", "type": "quantitative", "title": "Abundance sqrt(TSS)", "scale": {"domain": [0.09, 0.683]}, "axis": {"format": ".1f"}}},
  "layer": [
   {"transform": [{"filter": "datum.k=='lo'||datum.k=='hi'"}], "mark": {"type": "line", "color": "black", "strokeWidth": 4.5}, "encoding": {"detail": {"field": "g"}}},
   {"transform": [{"filter": "datum.k=='lo'||datum.k=='hi'"}], "mark": {"type": "tick", "color": "black", "opacity": 1, "size": 95, "thickness": 6, "cornerRadius": 3}},
   {"transform": [{"filter": "datum.k=='m'"}], "mark": {"type": "tick", "color": "black", "opacity": 1, "size": 148, "thickness": 7.5, "cornerRadius": 3.5}},
   {"transform": [{"filter": "datum.k=='pt'"}], "mark": {"type": "point", "filled": true, "size": 78, "opacity": 1, "fillOpacity": 0.62, "stroke": "#222", "strokeWidth": 0.8},
    "encoding": {"xOffset": {"field": "j", "type": "quantitative", "scale": {"domain": [-0.5, 0.5]}}, "shape": {"field": "g", "type": "nominal", "scale": {"domain": ["L","M","H"], "range": ["circle","M0,-1.2L1.2,0L0,1.2L-1.2,0Z","M-0.8,-0.8H0.8V0.8H-0.8Z"]}, "legend": null}, "fill": {"field": "g", "type": "nominal", "scale": {"domain": ["L","M","H"], "range": ["#ffff00","#ff0000","#0000ff"]}, "legend": null}}}
  ]}
], "spacing": 35, "resolve": {"scale": {"xOffset": "independent"}}},
{"hconcat": [
 {"width": 579, "height": 194, "title": {"text": "Coriobacteriia", "subtitle": "p = 1.3e-06 (Anova)"}, "transform": [{"filter": "datum.t=='Coriobacteriia'"}],
  "encoding": {"x": {"field": "g", "type": "nominal", "sort": ["L","M","H"], "title": null, "scale": {"type": "band", "paddingInner": 0, "paddingOuter": 0.1}, "axis": {"labelExpr": "datum.value=='L'?'Low management':datum.value=='M'?'Medium management':'High management'", "labelOffset": {"condition": [{"test": "datum.value=='L'", "value": -32}, {"test": "datum.value=='H'", "value": 5}], "value": -14}}},
   "y": {"field": "v", "type": "quantitative", "title": "Abundance sqrt(TSS)", "scale": {"domain": [0.697, 1.93]}, "axis": {"format": ".1f"}}},
  "layer": [
   {"transform": [{"filter": "datum.k=='lo'||datum.k=='hi'"}], "mark": {"type": "line", "color": "black", "strokeWidth": 4.5}, "encoding": {"detail": {"field": "g"}}},
   {"transform": [{"filter": "datum.k=='lo'||datum.k=='hi'"}], "mark": {"type": "tick", "color": "black", "opacity": 1, "size": 95, "thickness": 6, "cornerRadius": 3}},
   {"transform": [{"filter": "datum.k=='m'"}], "mark": {"type": "tick", "color": "black", "opacity": 1, "size": 148, "thickness": 7.5, "cornerRadius": 3.5}},
   {"transform": [{"filter": "datum.k=='pt'"}], "mark": {"type": "point", "filled": true, "size": 78, "opacity": 1, "fillOpacity": 0.62, "stroke": "#222", "strokeWidth": 0.8},
    "encoding": {"xOffset": {"field": "j", "type": "quantitative", "scale": {"domain": [-0.5, 0.5]}}, "shape": {"field": "g", "type": "nominal", "scale": {"domain": ["L","M","H"], "range": ["circle","M0,-1.2L1.2,0L0,1.2L-1.2,0Z","M-0.8,-0.8H0.8V0.8H-0.8Z"]}, "legend": null}, "fill": {"field": "g", "type": "nominal", "scale": {"domain": ["L","M","H"], "range": ["#ffff00","#ff0000","#0000ff"]}, "legend": null}}}
  ]},
 {"width": 579, "height": 194, "title": {"text": "Kiritimatiellae", "subtitle": "p = 3.2e-07 (Anova)"}, "transform": [{"filter": "datum.t=='Kiritimatiellae'"}],
  "encoding": {"x": {"field": "g", "type": "nominal", "sort": ["L","M","H"], "title": null, "scale": {"type": "band", "paddingInner": 0, "paddingOuter": 0.1}, "axis": {"labelExpr": "datum.value=='L'?'Low management':datum.value=='M'?'Medium management':'High management'", "labelOffset": {"condition": [{"test": "datum.value=='L'", "value": -14}, {"test": "datum.value=='H'", "value": 23}], "value": 4}}},
   "y": {"field": "v", "type": "quantitative", "title": "Abundance sqrt(TSS)", "scale": {"domain": [2.126, 4.271]}, "axis": {"format": ".1f"}}},
  "layer": [
   {"transform": [{"filter": "datum.k=='lo'||datum.k=='hi'"}], "mark": {"type": "line", "color": "black", "strokeWidth": 4.5}, "encoding": {"detail": {"field": "g"}}},
   {"transform": [{"filter": "datum.k=='lo'||datum.k=='hi'"}], "mark": {"type": "tick", "color": "black", "opacity": 1, "size": 95, "thickness": 6, "cornerRadius": 3}},
   {"transform": [{"filter": "datum.k=='m'"}], "mark": {"type": "tick", "color": "black", "opacity": 1, "size": 148, "thickness": 7.5, "cornerRadius": 3.5}},
   {"transform": [{"filter": "datum.k=='pt'"}], "mark": {"type": "point", "filled": true, "size": 78, "opacity": 1, "fillOpacity": 0.62, "stroke": "#222", "strokeWidth": 0.8},
    "encoding": {"xOffset": {"field": "j", "type": "quantitative", "scale": {"domain": [-0.5, 0.5]}}, "shape": {"field": "g", "type": "nominal", "scale": {"domain": ["L","M","H"], "range": ["circle","M0,-1.2L1.2,0L0,1.2L-1.2,0Z","M-0.8,-0.8H0.8V0.8H-0.8Z"]}, "legend": null}, "fill": {"field": "g", "type": "nominal", "scale": {"domain": ["L","M","H"], "range": ["#ffff00","#ff0000","#0000ff"]}, "legend": null}}}
  ]}
], "spacing": 35, "resolve": {"scale": {"xOffset": "independent"}}},
{"hconcat": [
 {"width": 579, "height": 194, "title": {"text": "Coriobacteriales", "subtitle": "p = 1.3e-06 (Anova)"}, "transform": [{"filter": "datum.t=='Coriobacteriales'"}],
  "encoding": {"x": {"field": "g", "type": "nominal", "sort": ["L","M","H"], "title": null, "scale": {"type": "band", "paddingInner": 0, "paddingOuter": 0.1}, "axis": {"labelExpr": "datum.value=='L'?'Low management':datum.value=='M'?'Medium management':'High management'", "labelOffset": {"condition": [{"test": "datum.value=='L'", "value": -32}, {"test": "datum.value=='H'", "value": 5}], "value": -14}}},
   "y": {"field": "v", "type": "quantitative", "title": "Abundance sqrt(TSS)", "scale": {"domain": [0.69, 1.93]}, "axis": {"format": ".1f"}}},
  "layer": [
   {"transform": [{"filter": "datum.k=='lo'||datum.k=='hi'"}], "mark": {"type": "line", "color": "black", "strokeWidth": 4.5}, "encoding": {"detail": {"field": "g"}}},
   {"transform": [{"filter": "datum.k=='lo'||datum.k=='hi'"}], "mark": {"type": "tick", "color": "black", "opacity": 1, "size": 95, "thickness": 6, "cornerRadius": 3}},
   {"transform": [{"filter": "datum.k=='m'"}], "mark": {"type": "tick", "color": "black", "opacity": 1, "size": 148, "thickness": 7.5, "cornerRadius": 3.5}},
   {"transform": [{"filter": "datum.k=='pt'"}], "mark": {"type": "point", "filled": true, "size": 78, "opacity": 1, "fillOpacity": 0.62, "stroke": "#222", "strokeWidth": 0.8},
    "encoding": {"xOffset": {"field": "j", "type": "quantitative", "scale": {"domain": [-0.5, 0.5]}}, "shape": {"field": "g", "type": "nominal", "scale": {"domain": ["L","M","H"], "range": ["circle","M0,-1.2L1.2,0L0,1.2L-1.2,0Z","M-0.8,-0.8H0.8V0.8H-0.8Z"]}, "legend": null}, "fill": {"field": "g", "type": "nominal", "scale": {"domain": ["L","M","H"], "range": ["#ffff00","#ff0000","#0000ff"]}, "legend": null}}}
  ]},
 {"width": 579, "height": 194, "title": {"text": "Anaeroplasmataceae", "subtitle": "p = 3e-06 (Anova)"}, "transform": [{"filter": "datum.t=='Anaeroplasmataceae'"}],
  "encoding": {"x": {"field": "g", "type": "nominal", "sort": ["L","M","H"], "title": null, "scale": {"type": "band", "paddingInner": 0, "paddingOuter": 0.1}, "axis": {"labelExpr": "datum.value=='L'?'Low management':datum.value=='M'?'Medium management':'High management'", "labelOffset": {"condition": [{"test": "datum.value=='L'", "value": -30}, {"test": "datum.value=='H'", "value": 7}], "value": -12}}},
   "y": {"field": "v", "type": "quantitative", "title": "Abundance sqrt(TSS)", "scale": {"domain": [-0.021, 0.523]}, "axis": {"format": ".1f"}}},
  "layer": [
   {"transform": [{"filter": "datum.k=='lo'||datum.k=='hi'"}], "mark": {"type": "line", "color": "black", "strokeWidth": 4.5}, "encoding": {"detail": {"field": "g"}}},
   {"transform": [{"filter": "datum.k=='lo'||datum.k=='hi'"}], "mark": {"type": "tick", "color": "black", "opacity": 1, "size": 95, "thickness": 6, "cornerRadius": 3}},
   {"transform": [{"filter": "datum.k=='m'"}], "mark": {"type": "tick", "color": "black", "opacity": 1, "size": 148, "thickness": 7.5, "cornerRadius": 3.5}},
   {"transform": [{"filter": "datum.k=='pt'"}], "mark": {"type": "point", "filled": true, "size": 78, "opacity": 1, "fillOpacity": 0.62, "stroke": "#222", "strokeWidth": 0.8},
    "encoding": {"xOffset": {"field": "j", "type": "quantitative", "scale": {"domain": [-0.5, 0.5]}}, "shape": {"field": "g", "type": "nominal", "scale": {"domain": ["L","M","H"], "range": ["circle","M0,-1.2L1.2,0L0,1.2L-1.2,0Z","M-0.8,-0.8H0.8V0.8H-0.8Z"]}, "legend": null}, "fill": {"field": "g", "type": "nominal", "scale": {"domain": ["L","M","H"], "range": ["#ffff00","#ff0000","#0000ff"]}, "legend": null}}}
  ]}
], "spacing": 35, "resolve": {"scale": {"xOffset": "independent"}}},
{"hconcat": [
 {"width": 579, "height": 194, "title": {"text": "Eggerthellaceae", "subtitle": "p = 6.5e-07 (Anova)"}, "transform": [{"filter": "datum.t=='Eggerthellaceae'"}],
  "encoding": {"x": {"field": "g", "type": "nominal", "sort": ["L","M","H"], "title": null, "scale": {"type": "band", "paddingInner": 0, "paddingOuter": 0.1}, "axis": {"labelExpr": "datum.value=='L'?'Low management':datum.value=='M'?'Medium management':'High management'", "labelOffset": {"condition": [{"test": "datum.value=='L'", "value": -32}, {"test": "datum.value=='H'", "value": 5}], "value": -14}}},
   "y": {"field": "v", "type": "quantitative", "title": "Abundance sqrt(TSS)", "scale": {"domain": [0.459, 1.649]}, "axis": {"format": ".1f"}}},
  "layer": [
   {"transform": [{"filter": "datum.k=='lo'||datum.k=='hi'"}], "mark": {"type": "line", "color": "black", "strokeWidth": 4.5}, "encoding": {"detail": {"field": "g"}}},
   {"transform": [{"filter": "datum.k=='lo'||datum.k=='hi'"}], "mark": {"type": "tick", "color": "black", "opacity": 1, "size": 95, "thickness": 6, "cornerRadius": 3}},
   {"transform": [{"filter": "datum.k=='m'"}], "mark": {"type": "tick", "color": "black", "opacity": 1, "size": 148, "thickness": 7.5, "cornerRadius": 3.5}},
   {"transform": [{"filter": "datum.k=='pt'"}], "mark": {"type": "point", "filled": true, "size": 78, "opacity": 1, "fillOpacity": 0.62, "stroke": "#222", "strokeWidth": 0.8},
    "encoding": {"xOffset": {"field": "j", "type": "quantitative", "scale": {"domain": [-0.5, 0.5]}}, "shape": {"field": "g", "type": "nominal", "scale": {"domain": ["L","M","H"], "range": ["circle","M0,-1.2L1.2,0L0,1.2L-1.2,0Z","M-0.8,-0.8H0.8V0.8H-0.8Z"]}, "legend": null}, "fill": {"field": "g", "type": "nominal", "scale": {"domain": ["L","M","H"], "range": ["#ffff00","#ff0000","#0000ff"]}, "legend": null}}}
  ]},
 {"width": 579, "height": 194, "title": {"text": "Victivallales", "subtitle": "p = 2.9e-06 (Anova)"}, "transform": [{"filter": "datum.t=='Victivallales'"}],
  "encoding": {"x": {"field": "g", "type": "nominal", "sort": ["L","M","H"], "title": null, "scale": {"type": "band", "paddingInner": 0, "paddingOuter": 0.1}, "axis": {"labelExpr": "datum.value=='L'?'Low management':datum.value=='M'?'Medium management':'High management'", "labelOffset": {"condition": [{"test": "datum.value=='L'", "value": -30}, {"test": "datum.value=='H'", "value": 7}], "value": -12}}},
   "y": {"field": "v", "type": "quantitative", "title": "Abundance sqrt(TSS)", "scale": {"domain": [-0.031, 0.845]}, "axis": {"format": ".1f"}}},
  "layer": [
   {"transform": [{"filter": "datum.k=='lo'||datum.k=='hi'"}], "mark": {"type": "line", "color": "black", "strokeWidth": 4.5}, "encoding": {"detail": {"field": "g"}}},
   {"transform": [{"filter": "datum.k=='lo'||datum.k=='hi'"}], "mark": {"type": "tick", "color": "black", "opacity": 1, "size": 95, "thickness": 6, "cornerRadius": 3}},
   {"transform": [{"filter": "datum.k=='m'"}], "mark": {"type": "tick", "color": "black", "opacity": 1, "size": 148, "thickness": 7.5, "cornerRadius": 3.5}},
   {"transform": [{"filter": "datum.k=='pt'"}], "mark": {"type": "point", "filled": true, "size": 78, "opacity": 1, "fillOpacity": 0.62, "stroke": "#222", "strokeWidth": 0.8},
    "encoding": {"xOffset": {"field": "j", "type": "quantitative", "scale": {"domain": [-0.5, 0.5]}}, "shape": {"field": "g", "type": "nominal", "scale": {"domain": ["L","M","H"], "range": ["circle","M0,-1.2L1.2,0L0,1.2L-1.2,0Z","M-0.8,-0.8H0.8V0.8H-0.8Z"]}, "legend": null}, "fill": {"field": "g", "type": "nominal", "scale": {"domain": ["L","M","H"], "range": ["#ffff00","#ff0000","#0000ff"]}, "legend": null}}}
  ]}
], "spacing": 35, "resolve": {"scale": {"xOffset": "independent"}}},
{"hconcat": [
 {"width": 579, "height": 194, "title": {"text": "Parvibacter", "subtitle": "p = 9.3e-06 (Anova)"}, "transform": [{"filter": "datum.t=='Parvibacter'"}],
  "encoding": {"x": {"field": "g", "type": "nominal", "sort": ["L","M","H"], "title": null, "scale": {"type": "band", "paddingInner": 0, "paddingOuter": 0.1}, "axis": {"labelExpr": "datum.value=='L'?'Low management':datum.value=='M'?'Medium management':'High management'", "labelOffset": {"condition": [{"test": "datum.value=='L'", "value": -17}, {"test": "datum.value=='H'", "value": 20}], "value": 1}}},
   "y": {"field": "v", "type": "quantitative", "title": "Abundance sqrt(TSS)", "scale": {"domain": [-0.023, 0.54]}, "axis": {"format": ".1f"}}},
  "layer": [
   {"transform": [{"filter": "datum.k=='lo'||datum.k=='hi'"}], "mark": {"type": "line", "color": "black", "strokeWidth": 4.5}, "encoding": {"detail": {"field": "g"}}},
   {"transform": [{"filter": "datum.k=='lo'||datum.k=='hi'"}], "mark": {"type": "tick", "color": "black", "opacity": 1, "size": 95, "thickness": 6, "cornerRadius": 3}},
   {"transform": [{"filter": "datum.k=='m'"}], "mark": {"type": "tick", "color": "black", "opacity": 1, "size": 148, "thickness": 7.5, "cornerRadius": 3.5}},
   {"transform": [{"filter": "datum.k=='pt'"}], "mark": {"type": "point", "filled": true, "size": 78, "opacity": 1, "fillOpacity": 0.62, "stroke": "#222", "strokeWidth": 0.8},
    "encoding": {"xOffset": {"field": "j", "type": "quantitative", "scale": {"domain": [-0.5, 0.5]}}, "shape": {"field": "g", "type": "nominal", "scale": {"domain": ["L","M","H"], "range": ["circle","M0,-1.2L1.2,0L0,1.2L-1.2,0Z","M-0.8,-0.8H0.8V0.8H-0.8Z"]}, "legend": null}, "fill": {"field": "g", "type": "nominal", "scale": {"domain": ["L","M","H"], "range": ["#ffff00","#ff0000","#0000ff"]}, "legend": null}}}
  ]},
 {"width": 579, "height": 194, "title": {"text": "Quinella", "subtitle": "p = 3.8e-07 (Anova)"}, "transform": [{"filter": "datum.t=='Quinella'"}],
  "encoding": {"x": {"field": "g", "type": "nominal", "sort": ["L","M","H"], "title": null, "scale": {"type": "band", "paddingInner": 0, "paddingOuter": 0.1}, "axis": {"labelExpr": "datum.value=='L'?'Low management':datum.value=='M'?'Medium management':'High management'", "labelOffset": {"condition": [{"test": "datum.value=='L'", "value": -10}, {"test": "datum.value=='H'", "value": 27}], "value": 9}}},
   "y": {"field": "v", "type": "quantitative", "title": "Abundance sqrt(TSS)", "scale": {"domain": [-0.039, 0.947]}, "axis": {"format": ".1f"}}},
  "layer": [
   {"transform": [{"filter": "datum.k=='lo'||datum.k=='hi'"}], "mark": {"type": "line", "color": "black", "strokeWidth": 4.5}, "encoding": {"detail": {"field": "g"}}},
   {"transform": [{"filter": "datum.k=='lo'||datum.k=='hi'"}], "mark": {"type": "tick", "color": "black", "opacity": 1, "size": 95, "thickness": 6, "cornerRadius": 3}},
   {"transform": [{"filter": "datum.k=='m'"}], "mark": {"type": "tick", "color": "black", "opacity": 1, "size": 148, "thickness": 7.5, "cornerRadius": 3.5}},
   {"transform": [{"filter": "datum.k=='pt'"}], "mark": {"type": "point", "filled": true, "size": 78, "opacity": 1, "fillOpacity": 0.62, "stroke": "#222", "strokeWidth": 0.8},
    "encoding": {"xOffset": {"field": "j", "type": "quantitative", "scale": {"domain": [-0.5, 0.5]}}, "shape": {"field": "g", "type": "nominal", "scale": {"domain": ["L","M","H"], "range": ["circle","M0,-1.2L1.2,0L0,1.2L-1.2,0Z","M-0.8,-0.8H0.8V0.8H-0.8Z"]}, "legend": null}, "fill": {"field": "g", "type": "nominal", "scale": {"domain": ["L","M","H"], "range": ["#ffff00","#ff0000","#0000ff"]}, "legend": null}}}
  ]}
], "spacing": 35, "resolve": {"scale": {"xOffset": "independent"}}}
],
"config": {
 "font": "Lato",
 "view": {"stroke": "black", "strokeWidth": 3.5},
 "axis": {"domain": false, "grid": false, "tickColor": "#333", "labelColor": "#222", "titleColor": "#222", "titleFontWeight": "normal", "labelFont": "Lato", "titleFont": "Lato"},
 "axisX": {"labelFontSize": 19.5, "labelPadding": 12, "tickSize": 7, "labelAngle": 0, "labelLimit": 400},
 "axisY": {"labelFontSize": 16, "titleFontSize": 18.5, "titlePadding": 9, "labelPadding": 5, "tickSize": 5},
 "title": {"fontSize": 19.5, "fontWeight": "normal", "subtitleFontSize": 19.5, "subtitleColor": "#222", "color": "#222", "font": "Lato", "subtitleFont": "Lato", "anchor": "middle", "frame": "group", "offset": 6, "subtitlePadding": 5}
}
}
